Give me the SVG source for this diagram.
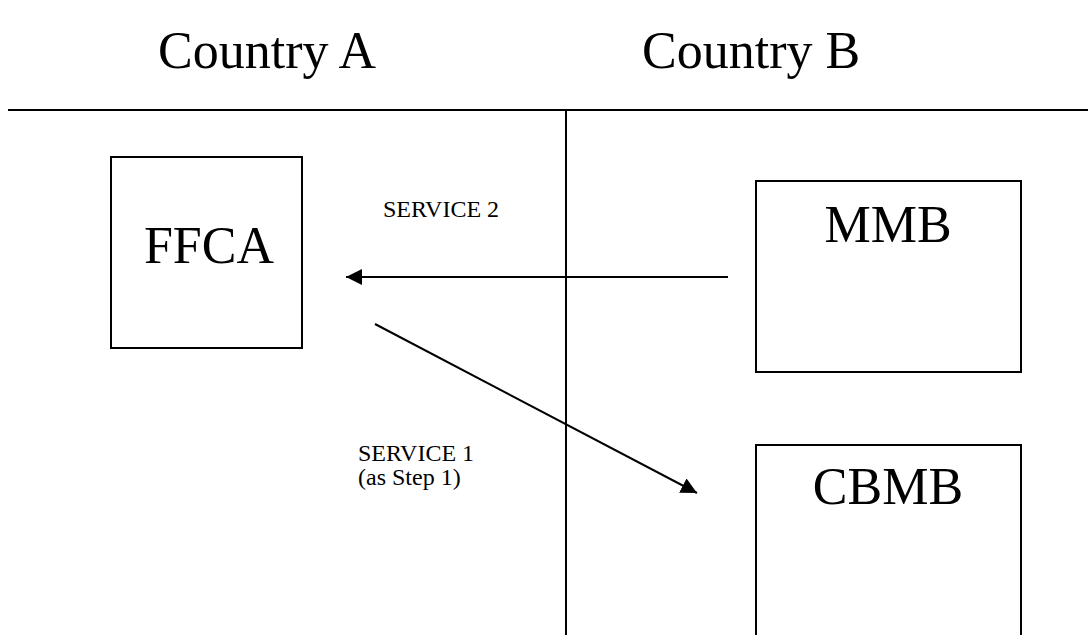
<svg xmlns="http://www.w3.org/2000/svg" width="1088" height="635" viewBox="0 0 1088 635">
<style>
text{font-family:"Liberation Serif","Times New Roman",serif;fill:#000}
.big{font-size:52px}
.lbl{font-size:24px}
.box{fill:#fff;stroke:#000;stroke-width:2}
.ln{stroke:#000;stroke-width:2;fill:none}
</style>
<defs>
<marker id="ah" markerUnits="userSpaceOnUse" markerWidth="16" markerHeight="16" viewBox="0 0 16 16" refX="16" refY="8" orient="auto">
<path d="M0,0 L16,8 L0,16 Z" fill="#000"/>
</marker>
</defs>
<rect width="1088" height="635" fill="#fff"/>
<g id="titles">
<text class="big" x="158" y="68">Country A</text>
<text class="big" x="642" y="68">Country B</text>
</g>
<g id="dividers">
<line class="ln" x1="8" y1="110" x2="1088" y2="110"/>
<line class="ln" x1="566" y1="110" x2="566" y2="635"/>
</g>
<g id="ffca">
<rect class="box" x="111" y="157" width="191" height="191"/>
<text class="big" x="209" y="263" text-anchor="middle">FFCA</text>
</g>
<g id="mmb">
<rect class="box" x="756" y="181" width="265" height="191"/>
<text class="big" x="888" y="242" text-anchor="middle">MMB</text>
</g>
<g id="cbmb">
<rect class="box" x="756" y="445" width="265" height="200"/>
<text class="big" x="888" y="504" text-anchor="middle">CBMB</text>
</g>
<g id="connectors">
<line class="ln" x1="728" y1="277" x2="346" y2="277" marker-end="url(#ah)"/>
<line class="ln" x1="375" y1="324" x2="697" y2="493" stroke-width="1.6" marker-end="url(#ah)"/>
</g>
<g id="labels">
<text class="lbl" x="383" y="217">SERVICE 2</text>
<text class="lbl" x="358" y="461">SERVICE 1</text>
<text class="lbl" x="358" y="485">(as Step 1)</text>
</g>
</svg>
